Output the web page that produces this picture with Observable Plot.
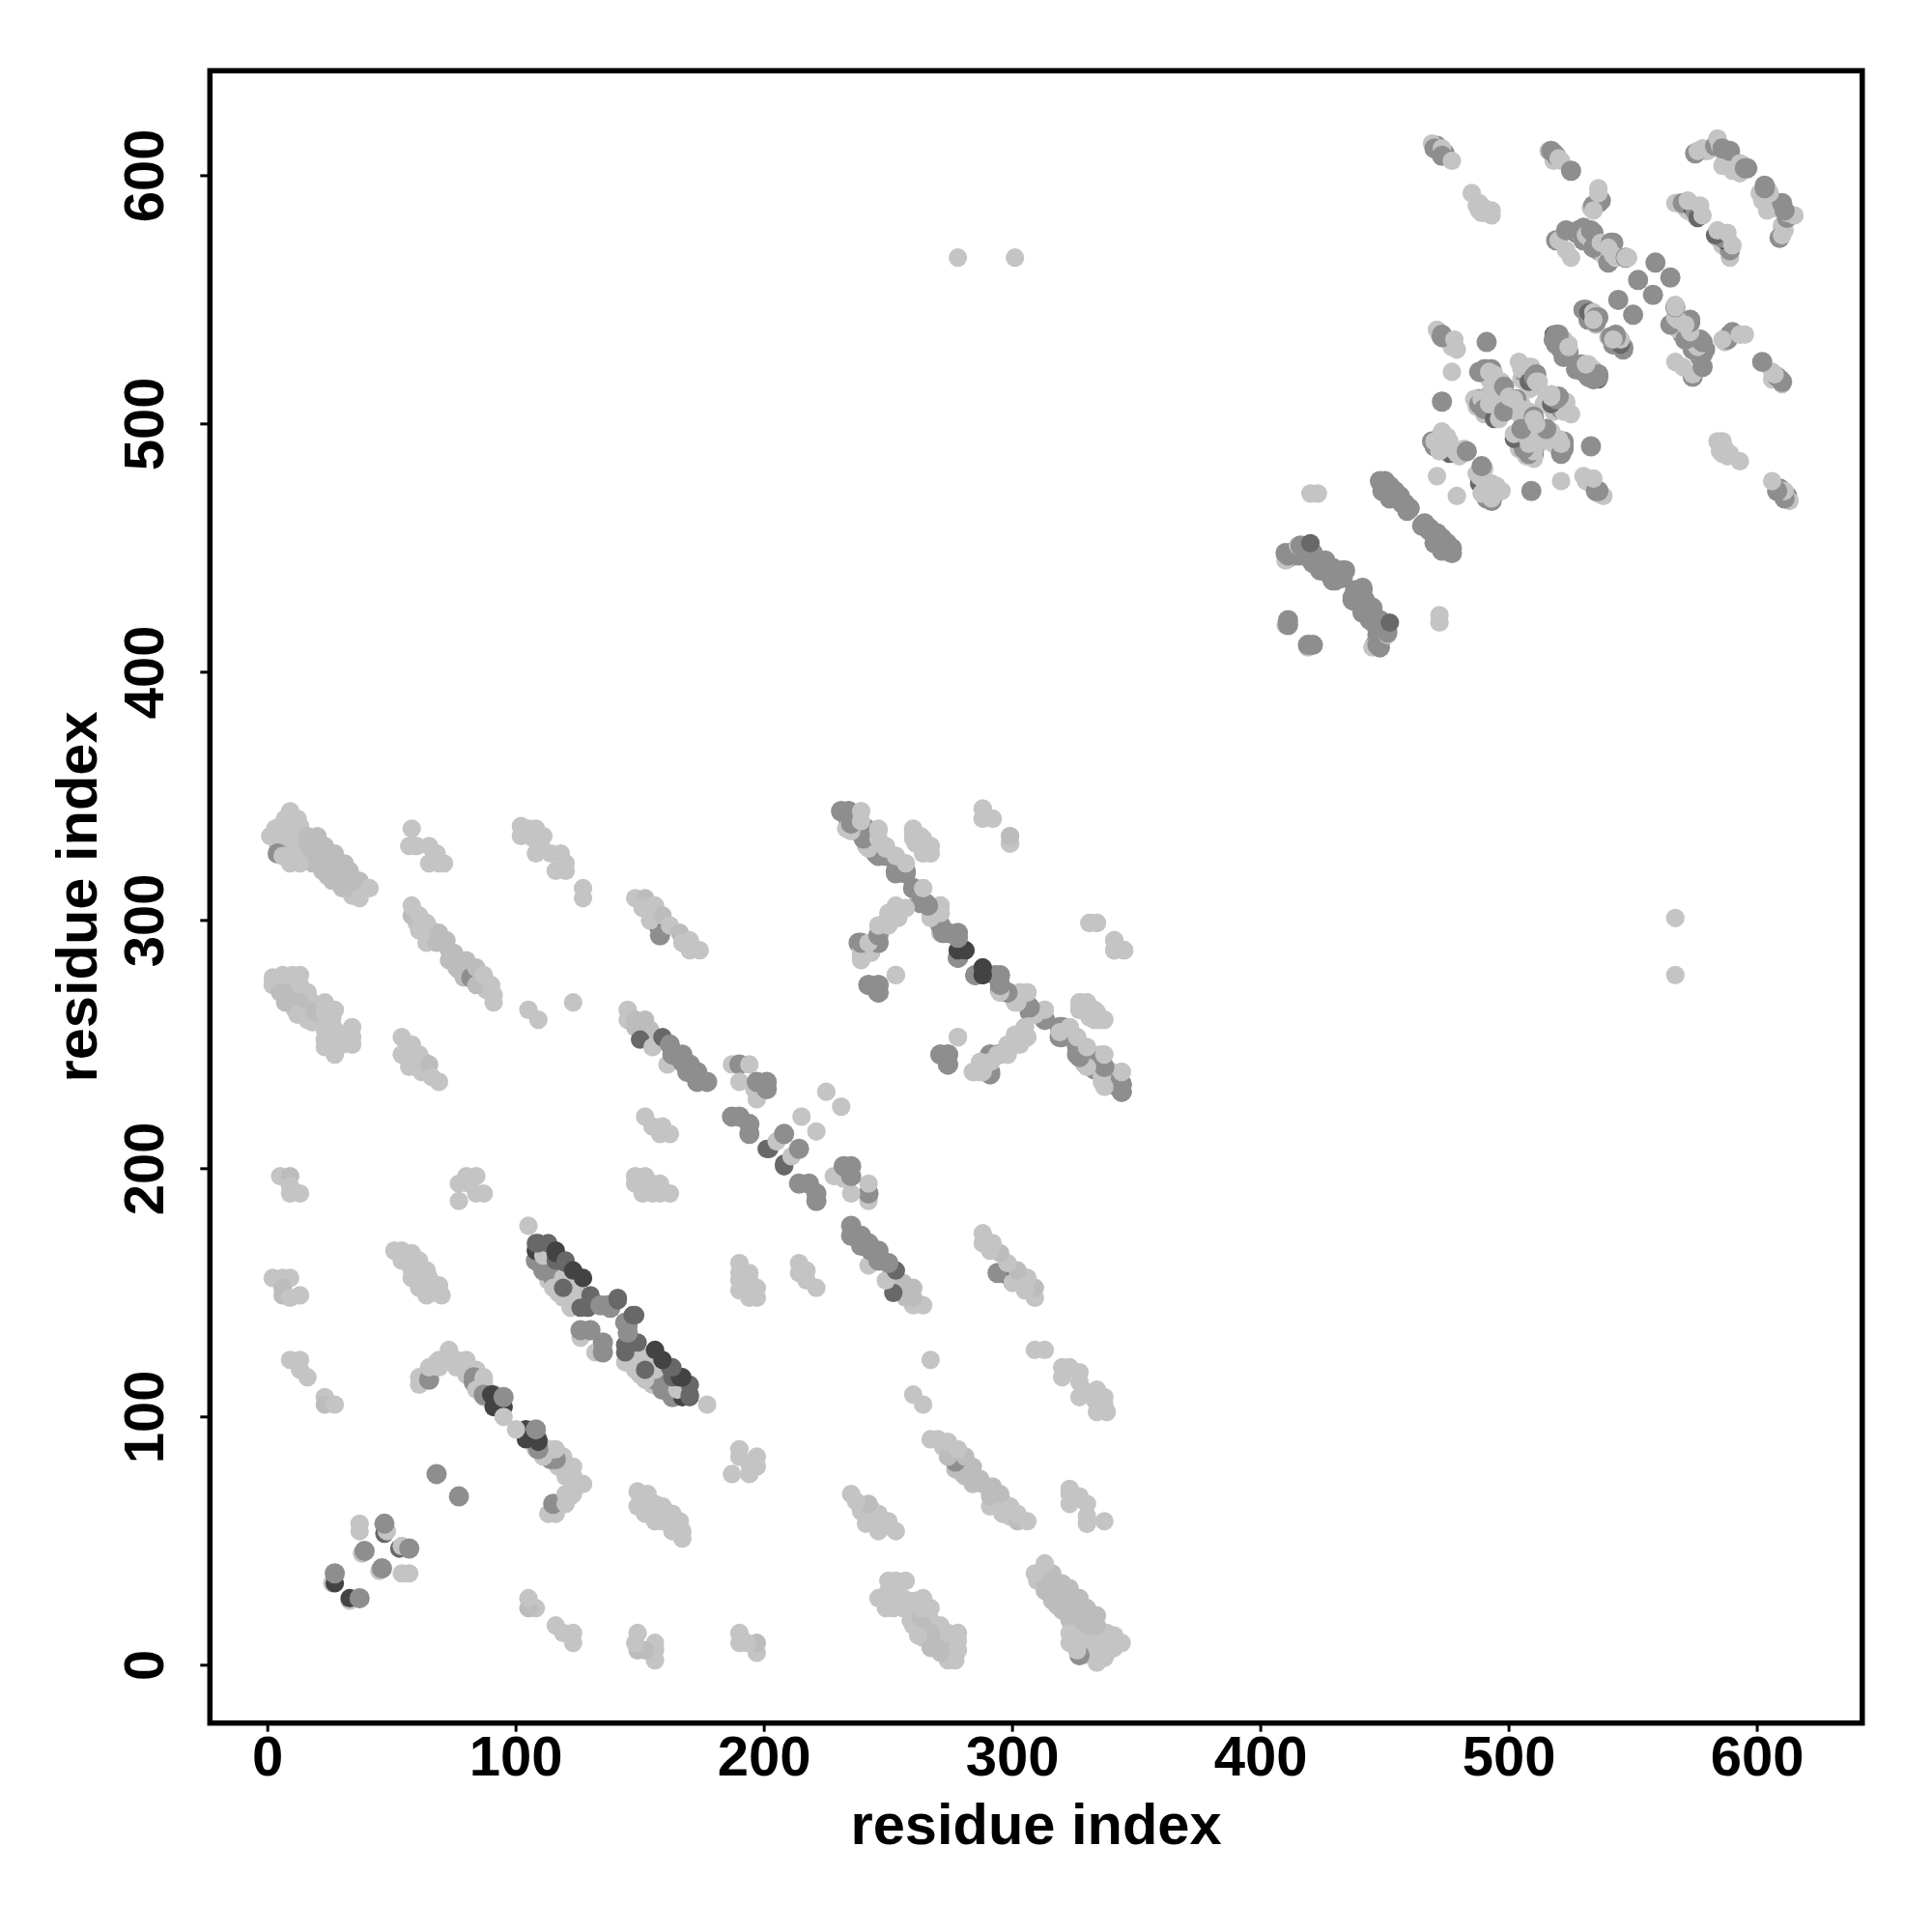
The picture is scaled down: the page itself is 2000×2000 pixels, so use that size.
<!DOCTYPE html>
<html><head><meta charset="utf-8">
<script src="https://cdn.jsdelivr.net/npm/d3@7"></script>
<script src="https://cdn.jsdelivr.net/npm/@observablehq/plot@0.6"></script>
<style>html,body{margin:0;background:#fff}svg{display:block}</style>
</head><body>
<script>
const tickValues = [0,100,200,300,400,500,600];
const axisTitle = "residue index";
const strengthClasses = [1,2,3,4,5];
const zoneBase = [[14,327,2],[17,326,2],[13,330,1],[16,327,2],[18,323,2],[22,320,2],[26,316,2],[30,313,2],[24,318,2],[28,318,2],[31,316,2],[35,313,2],[34,310,1],[5,338,1],[3,337,1],[11,325,1],[6,329,1],[4,274,1],[7,274,1],[10,274,1],[7,267,2],[11,264,1],[14,262,1],[18,267,1],[20,263,2],[22,260,1],[26,258,1],[23,256,1],[27,256,1],[30,250,1],[30,253,1],[18,259,1],[10,268,2],[16,264,2],[60,299,1],[63,295,1],[66,292,1],[70,291,2],[72,292,2],[75,287,2],[76,281,2],[80,280,2],[83,278,2],[86,275,2],[88,272,1],[66,296,1],[56,249,1],[58,245,2],[60,243,2],[63,243,2],[64,239,2],[113,155,1],[117,150,1],[112,160,1],[450,477,3],[452,475,3],[454,473,3],[456,471,3],[458,468,3],[460,466,3],[452,470,3],[449,475,3],[411,446,3],[414,449,3],[422,446,3],[426,445,3],[424,441,3],[427,441,3],[421,444,3],[428,439,3],[431,439,3],[433,438,3],[418,449,3],[419,448,3],[417,447,3],[490,520,1],[493,522,3],[492,518,1],[495,514,1],[494,514,1],[490,510,1],[492,512,1],[487,507,1],[490,504,1],[493,505,1],[496,510,1],[498,508,1],[499,505,1],[505,518,1],[507,520,1],[509,519,1],[510,515,1],[506,521,3],[508,514,1],[501,506,3],[503,505,1],[505,508,1],[506,505,1],[472,495,1],[474,494,1],[474,491,1],[475,492,1],[478,490,1],[480,487,1],[472,536,1],[476,533,1],[477,531,1],[519,534,4],[521,533,3],[522,534,1],[521,530,3],[524,529,3],[519,532,3],[522,530,3],[522,527,3],[533,544,3],[532,542,3],[533,542,3],[535,540,1],[535,541,3],[527,577,3],[529,576,1],[530,574,3],[533,574,1],[535,571,1],[536,570,3],[538,572,1],[538,568,1],[579,610,1],[580,610,1],[588,608,1],[591,605,1],[592,603,1],[590,602,1],[594,604,3],[596,603,3],[571,588,3],[572,586,1],[574,585,1],[575,584,1],[471,612,3],[472,610,3],[474,609,3],[487,588,1],[489,585,1],[491,585,1],[518,609,3],[518,606,1]];
const zoneA = [[9,344,1],[7,341,1],[12,341,1],[13,338,1],[9,337,1],[1,334,1],[5,334,1],[9,334,1],[4,331,1],[8,330,1],[11,331,1],[4,327,3],[6,326,1],[9,323,1],[13,323,1],[16,334,2],[20,334,2],[16,331,2],[19,330,2],[23,330,2],[20,327,2],[23,326,2],[27,327,2],[20,323,2],[24,323,2],[28,323,2],[31,323,2],[25,320,2],[29,320,2],[33,320,2],[34,317,2],[29,316,2],[33,316,2],[37,316,2],[33,313,2],[37,313,2],[37,309,1],[41,313,1]];
const zoneB = [[58,337,1],[57,330,1],[60,330,1],[65,330,1],[67,327,1],[65,323,1],[69,323,1],[68,327,1],[71,323,1]];
const zoneC = [[102,338,1],[105,337,1],[102,334,1],[108,337,1],[107,333,1],[111,334,1],[110,330,1],[108,327,1],[114,327,1],[118,327,1],[116,320,1],[120,323,1],[120,320,1],[127,313,1],[127,309,1]];
const zoneD = [[58,302,2],[58,306,1],[61,302,1],[64,299,1],[61,296,1],[64,291,1],[69,295,2],[68,291,2],[73,288,2],[73,284,2],[77,284,2],[80,284,2],[77,280,2],[79,277,2],[82,277,3],[84,281,2],[84,274,2],[87,278,1],[90,274,1],[91,270,1],[91,267,1],[105,264,1],[109,260,1],[123,267,1]];
const zoneE = [[2,277,1],[2,274,1],[6,278,1],[10,278,1],[13,278,1],[5,271,2],[9,271,2],[13,274,1],[16,271,1],[9,267,2],[13,267,2],[12,262,1],[16,260,1],[19,263,2],[23,267,1],[27,264,1],[23,263,1],[26,261,1],[23,252,1],[23,249,1],[27,246,1],[27,252,1],[34,257,1],[34,253,1],[34,250,1]];
const zoneF = [[54,253,1],[58,250,1],[54,246,1],[61,246,1],[57,241,1],[62,239,1],[65,242,2],[66,237,1],[69,235,1]];
const zoneG = [[148,309,1],[152,309,2],[151,305,1],[156,306,1],[157,298,4],[158,294,3],[154,300,1],[159,302,2],[162,298,1],[166,295,2],[167,291,1],[170,292,1],[170,288,1],[174,288,1]];
const zoneH = [[145,264,1],[145,260,1],[148,260,2],[152,260,2],[148,257,2],[154,256,2],[150,252,4],[155,249,1],[161,242,1],[159,253,4],[162,250,3],[163,246,3],[167,246,3],[167,243,3],[170,242,3],[169,239,3],[173,239,3],[173,235,3],[177,235,3]];
const zoneI = [[152,221,1],[155,217,1],[159,217,1],[158,214,1],[162,214,1]];
const zoneJ = [[5,197,1],[9,197,2],[9,193,1],[9,190,1],[13,190,1],[77,194,1],[80,197,1],[84,197,1],[77,187,1],[84,190,1],[87,190,1],[81,194,1],[148,197,1],[152,197,1],[148,194,1],[151,190,1],[155,194,1],[155,190,1],[158,194,1],[158,190,1],[162,190,1]];
const zoneK = [[2,156,1],[6,156,1],[9,156,1],[6,152,2],[6,149,2],[9,148,1],[13,149,1],[9,123,1],[13,123,1],[13,119,1],[16,116,1],[23,108,1],[23,105,2],[27,105,1]];
const zoneL = [[51,167,1],[54,167,1],[58,166,1],[54,163,1],[61,163,1],[58,159,1],[64,159,1],[58,156,1],[61,156,1],[65,156,1],[61,152,1],[64,149,1],[69,153,1],[66,150,1],[70,149,1]];
const zoneM = [[61,113,1],[61,116,1],[65,115,3],[65,120,1],[69,120,1],[69,123,1],[68,122,1],[73,126,1],[73,127,1],[74,123,1],[76,123,1],[80,123,1],[77,122,1],[80,122,1],[76,120,1],[80,117,1],[84,119,1],[83,114,3],[83,116,3],[87,115,1],[87,116,1],[84,111,1],[88,111,1],[87,108,1],[87,109,3],[91,109,4],[90,109,5],[91,104,5],[95,104,5],[95,108,3],[95,100,1]];
const zoneN = [[68,77,3],[37,57,1],[37,54,1],[47,53,4],[48,54,1],[47,57,3],[38,45,1],[39,46,3],[26,33,1],[27,33,5],[27,37,3]];
const zoneO = [[108,163,3],[108,167,5],[114,159,5],[111,159,3],[115,156,3],[118,151,5],[122,148,5],[111,165,1],[115,152,1],[119,148,1],[119,156,1],[122,144,1],[122,156,1],[125,150,1],[119,152,4],[108,170,4],[113,170,4],[109,170,4],[116,163,4],[116,167,5],[116,166,5],[120,163,4],[120,162,4],[123,159,5],[127,156,5],[126,144,4],[129,144,4],[130,149,4],[134,145,3],[137,145,3],[138,144,3],[141,147,4],[141,148,4],[126,132,1],[126,135,3],[130,135,3],[105,177,1]];
const zoneP = [[232,344,1],[231,344,3],[234,344,3],[234,340,3],[239,344,1],[233,337,1],[237,336,1],[241,337,3],[244,332,3],[241,330,1],[245,327,3],[246,337,1],[249,326,3],[249,330,1],[253,320,3],[257,320,3],[253,326,1],[255,319,1],[257,323,1],[260,313,3],[264,313,1],[262,309,1],[265,307,3],[267,302,1],[271,306,1],[271,303,1],[271,298,3],[271,295,1],[274,295,3],[278,295,3],[278,285,3],[278,288,5],[281,288,5],[285,278,3],[288,278,5],[288,281,5],[293,278,3],[295,271,1],[295,272,3],[298,271,3],[301,267,1],[303,271,1],[306,271,1],[306,266,3],[307,263,3],[313,260,3],[313,264,1],[319,253,3],[319,257,3],[323,257,1],[326,246,3],[326,253,1],[329,242,1],[329,249,1],[333,240,3],[333,246,1],[336,246,1],[336,235,1],[339,235,3],[344,231,3],[344,234,3],[340,239,1],[344,239,1]];
const zoneQ = [[253,306,1],[257,305,1],[253,302,1],[250,301,1],[246,298,1],[246,291,3],[238,291,3],[239,285,1],[239,288,1],[243,287,1],[243,291,1],[246,294,1],[242,274,3],[246,274,3],[246,271,3],[253,278,1]];
const zoneR = [[260,337,1],[260,334,1],[263,334,1],[263,330,1],[267,330,1],[264,327,1],[267,327,1],[288,345,1],[288,341,1],[292,341,1],[299,334,1],[299,331,1],[331,299,1],[334,299,2],[341,292,1],[341,288,1],[345,288,1],[327,267,1],[330,267,1],[327,264,1],[331,261,1],[333,264,1],[333,260,1],[336,260,1]];
const zoneS = [[278,253,1],[271,246,3],[274,246,3],[274,242,3],[284,239,1],[287,239,1],[287,243,1],[291,239,3],[291,246,3],[291,242,1],[294,246,3],[298,246,1],[298,250,1],[301,254,1],[303,250,1],[305,254,1],[305,257,1]];
const zoneT = [[187,242,1],[190,242,3],[194,242,1],[190,235,1],[196,232,1],[197,228,1],[197,235,3],[201,235,3],[201,232,3],[187,221,3],[190,221,3],[194,218,3],[194,214,3],[201,208,4],[202,208,4],[205,211,1],[208,214,3],[215,221,1],[225,231,1],[278,567,1],[301,567,1]];
const zoneU = [[469,613,1],[470,611,3],[473,611,1],[473,608,3],[477,606,1],[485,593,1],[488,589,1],[488,586,1],[490,587,1],[493,586,1],[493,584,1],[516,610,1],[517,610,3],[519,608,3],[520,607,1],[521,606,1],[525,602,3]];
const zoneV = [[420,472,1],[423,472,1],[448,477,3],[449,473,3],[450,474,3],[453,472,3],[455,470,3],[457,468,3],[459,465,3],[410,445,1],[410,448,3],[411,447,3],[415,447,3],[415,451,1],[417,451,1],[416,451,3],[421,448,3],[420,447,3],[424,445,3],[424,444,3],[429,442,3],[429,437,3],[430,441,3],[430,437,3],[433,441,3],[434,441,3],[420,452,4],[410,419,1],[411,421,3],[411,419,3]];
const zoneW = [[471,538,1],[473,535,3],[473,536,3],[478,534,1],[479,530,1],[491,533,3],[477,521,1],[473,509,3],[469,493,3],[473,490,4],[470,491,3],[470,493,1],[473,497,1],[476,488,4],[476,493,1],[479,488,1],[477,490,1],[472,489,1],[475,495,1],[482,490,1],[483,489,3],[471,479,1]];
const zoneX = [[488,521,3],[490,522,3],[491,522,3],[492,521,1],[494,520,1],[494,518,1],[497,517,1],[496,516,1],[497,515,1],[488,510,3],[486,510,1],[488,508,3],[489,510,1],[490,506,3],[494,502,4],[496,506,3],[492,508,1],[494,508,1],[494,510,1],[496,502,1],[498,505,3],[498,515,3],[500,511,1],[503,510,3],[502,510,1],[504,525,1],[505,522,1],[508,517,4],[509,523,1],[508,523,1],[510,519,3],[511,520,3],[511,517,1],[512,517,1]];
const zoneY = [[518,536,4],[520,536,3],[522,532,3],[523,528,3],[524,532,1],[519,536,3],[518,534,3],[520,535,3],[523,529,3],[524,531,1],[530,546,3],[531,546,3],[532,545,4],[534,545,1],[535,543,3],[536,543,3],[534,542,1],[533,587,1],[534,588,3],[536,595,1],[536,589,3],[537,590,3],[536,593,1],[534,586,1]];
const zoneZ = [[519,574,3],[520,574,1],[523,578,3],[523,570,1],[525,567,1],[528,578,3],[530,579,3],[532,578,3],[531,576,1],[534,577,3],[534,571,3],[533,578,3],[537,573,1],[540,565,3],[541,573,3],[542,573,3],[540,571,1],[542,568,1],[543,567,1],[547,567,3],[547,567,1],[548,567,1],[544,550,3],[552,558,3],[559,565,3]];
const zoneTop = [[575,609,3],[576,610,1],[578,611,1],[586,604,1],[588,604,1],[587,607,1],[590,607,1],[583,612,3],[585,612,1],[584,615,1],[586,611,3],[589,610,3],[593,605,1],[593,601,1],[595,603,3],[567,589,1],[568,589,1],[570,589,3],[573,589,1],[574,587,5],[576,586,4],[575,586,3],[572,590,1],[576,583,4],[577,588,1],[578,584,1]];

const upper = [...zoneBase,...zoneA,...zoneB,...zoneC,...zoneD,...zoneE,...zoneF,...zoneG,...zoneH,...zoneI,...zoneJ,...zoneK,...zoneL,...zoneM,...zoneN,...zoneO,...zoneP,...zoneQ,...zoneR,...zoneS,...zoneT,...zoneU,...zoneV,...zoneW,...zoneX,...zoneY,...zoneZ,...zoneTop];
const contacts = [...upper.map(([i,j,w])=>({x:i,y:j,w})), ...upper.map(([i,j,w])=>({x:j,y:i,w}))];
const font = "'Liberation Sans', Arial, sans-serif";

const chart = Plot.plot({
  width:2000, height:2000,
  marginLeft:216.8, marginRight:72.7, marginTop:72.7, marginBottom:216.8,
  x:{domain:[-23.3,642.3]},
  y:{domain:[-23.3,642.3]},
  r:{type:"identity"},
  color:{type:"ordinal", domain:strengthClasses, range:["#c4c4c4","#bcbcbc","#8e8e8e","#686868","#434343"]},
  style:{fontFamily:font, fontWeight:"bold", fontSize:"58px", color:"#000", background:"#fff"},
  marks:[
    Plot.dot(contacts,{x:"x",y:"y",fill:"w",r:d=>d.w===3?10.5:9.6,sort:null}),
    Plot.axisX({ticks:tickValues, tickSize:9.5, tickPadding:4, strokeWidth:3, fontSize:58, fontWeight:"bold", tickFormat:d=>String(d), label:null}),
    Plot.axisY({ticks:tickValues, tickSize:9.5, tickPadding:39, strokeWidth:3, fontSize:58, fontWeight:"bold", tickRotate:-90, tickFormat:d=>String(d), textAnchor:"middle", label:null}),
    Plot.axisX({ticks:[], tickSize:0, fontSize:59.6, fontWeight:"bold", label:axisTitle, labelAnchor:"center", labelArrow:"none", labelOffset:125}),
    Plot.axisY({ticks:[], tickSize:0, fontSize:59.6, fontWeight:"bold", label:axisTitle, labelAnchor:"center", labelArrow:"none", labelOffset:160}),
    Plot.frame({stroke:"#000", strokeWidth:5.5})
  ]
});
document.body.appendChild(chart);
</script>
</body></html>
